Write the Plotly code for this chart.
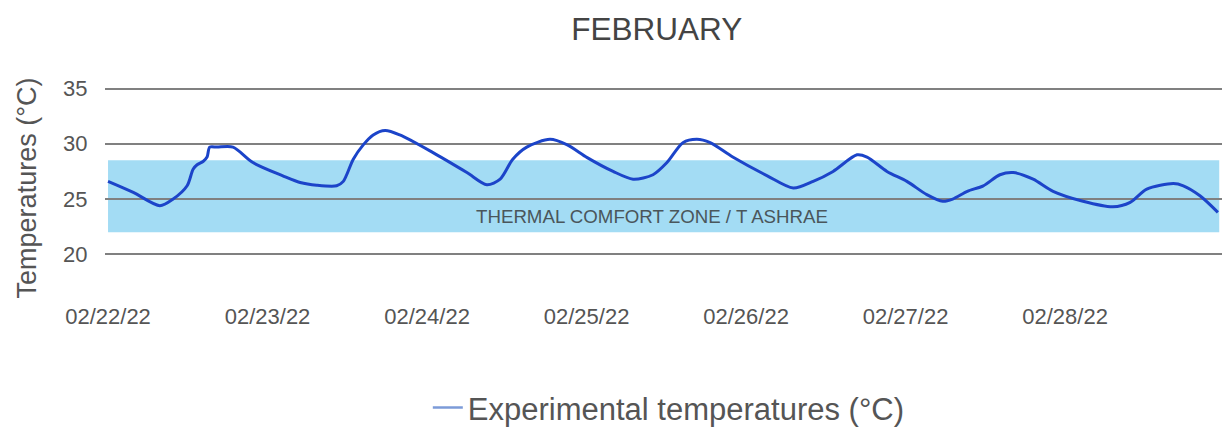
import pandas as pd
import plotly.graph_objects as go

# ---- data ----
start_date = "2022-02-22 00:00"
hours = [0.0, 3.8, 7.8, 9.8, 11.9, 12.8, 13.4, 14.3, 14.9, 15.3, 16.4, 18.8, 21.8,
         26.3, 28.9, 31.4, 34.4, 35.4, 36.9, 38.4, 39.9, 41.7, 43.9, 48.9, 54.0,
         57.0, 59.0, 60.9, 63.0, 66.5, 69.1, 72.1, 76.0, 79.0, 82.0, 84.1, 86.5,
         88.6, 90.6, 94.0, 99.2, 103.1, 106.1, 109.1, 112.7, 114.2, 117.2, 120.2,
         123.2, 125.6, 127.1, 129.3, 131.7, 134.2, 136.2, 139.2, 142.2, 146.7,
         151.2, 153.8, 156.3, 160.3, 161.8, 164.3, 167.0]
temps = [26.6, 25.6, 24.4, 25.0, 26.2, 27.7, 28.1, 28.4, 28.8, 29.7, 29.7, 29.7, 28.3,
         27.1, 26.5, 26.25, 26.2, 26.6, 28.6, 29.9, 30.8, 31.2, 30.8, 29.2, 27.4,
         26.3, 26.8, 28.6, 29.7, 30.4, 29.9, 28.75, 27.5, 26.8, 27.2, 28.3, 30.1,
         30.4, 30.1, 28.8, 27.1, 26.0, 26.6, 27.5, 29.0, 28.8, 27.5, 26.6,
         25.4, 24.8, 25.0, 25.7, 26.2, 27.2, 27.4, 26.8, 25.7, 24.8,
         24.3, 24.7, 25.9, 26.4, 26.2, 25.3, 23.8]
comfort_low = 22.0
comfort_high = 28.5
comfort_label = "THERMAL COMFORT ZONE / T ASHRAE"
y_ticks = [20, 25, 30, 35]
title_text = "FEBRUARY"
series_name = "Experimental temperatures (°C)"
y_title = "Temperatures (°C)"

base = pd.Timestamp(start_date)
times = base + pd.to_timedelta(hours, unit="h")

FONT = "Liberation Sans, Arial, sans-serif"

fig = go.Figure()

# comfort band
fig.add_shape(type="rect", xref="x", yref="y",
              x0=times[0], x1=times[-1] + pd.Timedelta(hours=0.2),
              y0=comfort_low, y1=comfort_high,
              fillcolor="#a3dcf4", line=dict(width=0), layer="below")
fig.add_annotation(x=base + pd.Timedelta(hours=(times[-1] - times[0]).total_seconds() / 3600 * 0.49),
                   y=(comfort_low + 25) / 2 - 0.05, xref="x", yref="y",
                   text=comfort_label, showarrow=False,
                   font=dict(family=FONT, size=18.7, color="#4a565b"))

fig.add_trace(go.Scatter(x=times, y=temps, mode="lines",
                         line=dict(color="#1c44c9", width=3, shape="spline", smoothing=0.8),
                         showlegend=False, hoverinfo="skip"))
# legend entry
fig.add_trace(go.Scatter(x=[None], y=[None], mode="lines", name=series_name,
                         line=dict(color="#7c9bd8", width=2.5), showlegend=True))

fig.update_layout(
    width=1232, height=445,
    margin=dict(l=105, r=10, t=83, b=150),
    paper_bgcolor="white", plot_bgcolor="white",
    font=dict(family=FONT, color="#555555"),
    title=dict(text=title_text, x=0.494, xref="paper", xanchor="center",
               y=0.935, yref="container", yanchor="middle",
               font=dict(family=FONT, size=31.5, color="#444444")),
    showlegend=True,
    legend=dict(orientation="h", x=0.289, xanchor="left", y=-0.547, yanchor="middle",
                font=dict(family=FONT, size=31, color="#555555"),
                bgcolor="rgba(0,0,0,0)"),
)

fig.update_xaxes(
    range=[base - pd.Timedelta(days=0.019), base + pd.Timedelta(days=6.984)],
    tick0=base, dtick=86400000, tickformat="%m/%d/%y",
    showgrid=False, zeroline=False, showline=False,
    ticks="outside", ticklen=4, tickcolor="rgba(0,0,0,0)",
    tickfont=dict(family=FONT, size=22, color="#555555"),
)
fig.update_yaxes(
    range=[16.5, 35.5], tickvals=y_ticks,
    showgrid=True, gridcolor="#808080", gridwidth=2, zeroline=False, showline=False,
    ticks="outside", ticklen=12, tickcolor="rgba(0,0,0,0)",
    tickfont=dict(family=FONT, size=22, color="#555555"),
    title=dict(text=y_title, standoff=18, font=dict(family=FONT, size=27, color="#555555")),
)

fig.write_html("out.html")
